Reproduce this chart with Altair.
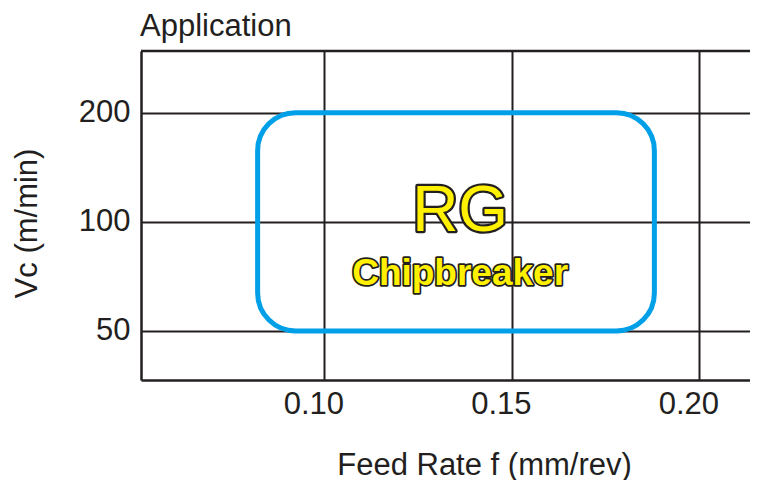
import altair as alt
import pandas as pd

# Data
x_ticks = [0.10, 0.15, 0.20]
y_ticks = [50, 100, 200]
x_domain = [0.0511, 0.2135]
y_domain = [36.6, 296]

region_name = ["RG"]
region_f_min = [0.0822]
region_f_max = [0.188]
region_vc_min = [50]
region_vc_max = [200]

label_text = ["RG", "Chipbreaker"]
label_f = [0.1362, 0.1362]
label_vc = [94.6, 66.9]

chart_title = "Application"

INK = "#231f20"
BLUE = "#00a0e9"
YELLOW = "#fff100"
FONT = "Liberation Sans"

W, H = 609, 329

region = pd.DataFrame({"name": region_name, "f0": region_f_min, "f1": region_f_max,
                       "v0": region_vc_min, "v1": region_vc_max})
labels = pd.DataFrame({"text": label_text, "f": label_f, "vc": label_vc})
title_df = pd.DataFrame({"text": [chart_title]})

xscale = alt.Scale(domain=x_domain, nice=False, zero=False)
yscale = alt.Scale(type="log", domain=y_domain, nice=False)

xaxis = alt.Axis(values=x_ticks, format=".2f", grid=True, ticks=False,
                 labelFontSize=31, labelPadding=9, labelOffset=-11,
                 title="Feed Rate f (mm/rev)", titleFontSize=31, titleFontWeight="normal",
                 titleX=343, titleY=94, titleBaseline="alphabetic", titleAnchor="middle")
yaxis = alt.Axis(values=y_ticks, format="d", grid=True, ticks=False,
                 labelFontSize=31, labelPadding=11,
                 title="Vc (m/min)", titleFontSize=31, titleFontWeight="normal",
                 titleAngle=-90, titleX=-105, titleY=172, titleBaseline="alphabetic",
                 titleAlign="center")

rect = alt.Chart(region).mark_rect(
    fillOpacity=0, stroke=BLUE, strokeWidth=5, cornerRadius=38
).encode(
    x=alt.X("f0:Q", scale=xscale, axis=xaxis),
    x2="f1:Q",
    y=alt.Y("v0:Q", scale=yscale, axis=yaxis),
    y2="v1:Q",
)


def outlined(text, size, weight, outline):
    src = labels[labels.text == text]
    enc = dict(x=alt.X("f:Q", scale=xscale), y=alt.Y("vc:Q", scale=yscale), text="text:N")
    back = alt.Chart(src).mark_text(
        font=FONT, fontSize=size, fontWeight=weight, fill=INK, stroke=INK,
        strokeWidth=outline, strokeJoin="round", baseline="alphabetic", align="center"
    ).encode(**enc)
    front = alt.Chart(src).mark_text(
        font=FONT, fontSize=size, fontWeight=weight, fill=YELLOW,
        baseline="alphabetic", align="center"
    ).encode(**enc)
    return [back, front]


rg = outlined("RG", 64, "normal", 4.5)
cb = outlined("Chipbreaker", 37, "bold", 3.5)

top = alt.Chart(region).mark_rule(color=INK, strokeWidth=2.5).encode(
    x=alt.value(0), x2=alt.value(W), y=alt.value(0)
)

ttl = alt.Chart(title_df).mark_text(
    font=FONT, fontSize=31, color=INK, align="left", baseline="alphabetic"
).encode(x=alt.value(-1), y=alt.value(-15), text="text:N")

chart = alt.layer(rect, *rg, *cb, top, ttl).properties(
    width=W, height=H,
    autosize=alt.AutoSizeParams(type="none"),
    padding={"left": 133, "top": 43, "right": 0, "bottom": 100},
).configure_view(stroke=None).configure_axis(
    labelFont=FONT, titleFont=FONT, labelColor=INK, titleColor=INK,
    domainColor=INK, domainWidth=2.5, gridColor=INK, gridWidth=2, gridOpacity=1,
)

chart.save("out.html", embed_options={"renderer": "svg", "actions": False})
